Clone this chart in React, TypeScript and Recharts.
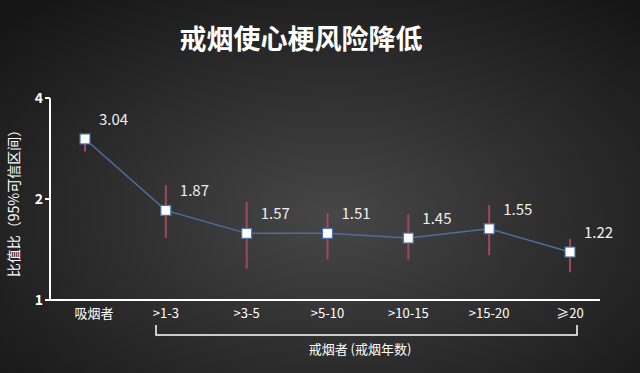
import React from "react";
import { LineChart, Line, XAxis, YAxis, ErrorBar, LabelList } from "recharts";

const categories = ["吸烟者", ">1-3", ">3-5", ">5-10", ">10-15", ">15-20", "≥20"];
// plotted ratio (as positioned in the picture) and printed labels
const ratios = [3.02, 1.85, 1.58, 1.58, 1.53, 1.63, 1.39];
const ratioLabels = ["3.04", "1.87", "1.57", "1.51", "1.45", "1.55", "1.22"];
const ciLow = [2.77, 1.53, 1.24, 1.32, 1.32, 1.36, 1.21];
const ciHigh = [3.1, 2.2, 1.96, 1.81, 1.8, 1.92, 1.52];
const yTicks = [1, 2, 4];

const chartData = categories.map((name, i) => ({
  name,
  ratio: ratios[i],
  label: ratioLabels[i],
  err: [ratios[i] - ciLow[i], ciHigh[i] - ratios[i]],
}));

const FONT = "'Noto Sans CJK SC', 'Noto Sans', sans-serif";

const SquareDot = (props: any) => {
  const { cx, cy } = props;
  if (cx == null || cy == null) return null;
  return <rect x={cx - 5} y={cy - 5} width={10} height={10} fill="#ffffff" stroke="#4a6fa8" strokeWidth={1.2} />;
};

const PointLabel = (props: any) => {
  const { x, y, value } = props;
  return (
    <text x={x + 14} y={y - 18} fill="#f0f0f0" fontSize={15} fontFamily={FONT} dominantBaseline="middle">
      {value}
    </text>
  );
};

const XTick = (props: any) => {
  const { x, y, payload, index } = props;
  return (
    <text x={x + (index === 0 ? 9 : 0)} y={y + 6} fill="#ffffff" fontSize={13} fontFamily={FONT} textAnchor="middle" dominantBaseline="middle">
      {payload.value}
    </text>
  );
};

const App: React.FC = () => {
  return (
    <div
      style={{
        position: "absolute",
        left: 0,
        top: 0,
        width: 640,
        height: 373,
        background: "radial-gradient(ellipse 70% 75% at 52% 58%, #474747 0%, #303030 45%, #161616 100%)",
        fontFamily: FONT,
      }}
    >
      <LineChart width={640} height={373} data={chartData} margin={{ top: 98, right: 40, bottom: 0, left: 0 }}>
        <XAxis
          dataKey="name"
          axisLine={{ stroke: "#ffffff", strokeWidth: 2 }}
          tickLine={false}
          tick={<XTick />}
          height={73}
          padding={{ left: 35, right: 30 }}
          interval={0}
        />
        <YAxis
          scale="log"
          domain={[1, 4]}
          ticks={yTicks}
          width={50}
          allowDataOverflow
          axisLine={{ stroke: "#ffffff", strokeWidth: 2 }}
          tickLine={{ stroke: "#ffffff", strokeWidth: 2 }}
          tickSize={5}
          tick={{ fill: "#ffffff", fontSize: 14, fontWeight: 700, fontFamily: FONT }}
        />
        <Line
          dataKey="ratio"
          stroke="#4e6e9f"
          strokeWidth={1.5}
          dot={<SquareDot />}
          activeDot={false}
          isAnimationActive={false}
        >
          <ErrorBar dataKey="err" width={0} stroke="#a04862" strokeWidth={2} direction="y" />
          <LabelList dataKey="label" content={<PointLabel />} />
        </Line>
      </LineChart>
      <svg width={640} height={373} style={{ position: "absolute", left: 0, top: 0, pointerEvents: "none" }}>
        <text x={301} y={42} fill="#ffffff" fontSize={27} fontWeight={700} textAnchor="middle" dominantBaseline="middle" fontFamily={FONT}>
          戒烟使心梗风险降低
        </text>
        <text
          x={15}
          y={200}
          fill="#ffffff"
          fontSize={14}
          textAnchor="middle"
          dominantBaseline="middle"
          fontFamily={FONT}
          transform="rotate(-90 15 200)"
        >
          比值比（95%可信区间）
        </text>
        <path d="M156 325 V335 H577 V325" fill="none" stroke="#ffffff" strokeWidth={1.5} />
        <text x={360} y={350} fill="#ffffff" fontSize={13} textAnchor="middle" dominantBaseline="middle" fontFamily={FONT}>
          戒烟者 (戒烟年数)
        </text>
      </svg>
    </div>
  );
};

export default App;
